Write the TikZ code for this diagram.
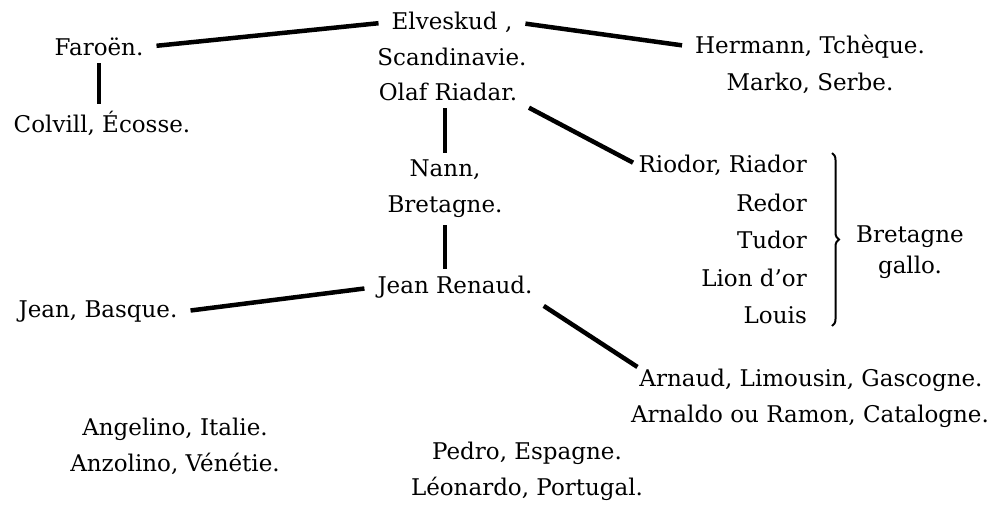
\documentclass[tikz,border=0pt]{standalone}
\usepackage{fontspec}
\setmainfont{DejaVu Serif}
\usetikzlibrary{decorations.pathreplacing}

\tikzset{
  nom/.style={font=\fontsize{23}{36}\selectfont, inner sep=1pt, align=center},
  trait/.style={line width=4.5pt, shorten <=12pt, shorten >=12pt},
  barre/.style={line width=4.5pt, shorten <=6pt, shorten >=6pt},
}

\begin{document}
\begin{tikzpicture}[line cap=butt,x=1pt,y=-1pt]
  \useasboundingbox (0,0) rectangle (991,509);
  % main stem
  \node[nom] (elveskud) at (452,22) {Elveskud ,};
  \node[nom] (scandinavie) at (452,57) {Scandinavie.};
  \node[nom] (olaf) at (448,92) {Olaf Riadar.};
  \node[nom] (faroen) at (99,47) {Faroën.};
  \node[nom] (colvill) at (102,123) {Colvill, Écosse.};
  \node[nom] (hermann) at (810,47) {Hermann, Tchèque.};
  \node[nom] (marko) at (810,83) {Marko, Serbe.};
  \node[nom] (nann) at (445,170) {Nann,};
  \node[nom] (bretagne) at (445,207) {Bretagne.};
  \node[nom] (jeanrenaud) at (455,287) {Jean Renaud.};
  \node[nom] (jeanbasque) at (98,312) {Jean, Basque.};
  % Bretagne gallo
  \node[nom,anchor=east] (riodor) at (808,165) {Riodor, Riador};
  \node[nom,anchor=east] (redor) at (808,203) {Redor};
  \node[nom,anchor=east] (tudor) at (808,240) {Tudor};
  \node[nom,anchor=east] (lion) at (808,278) {Lion d’or};
  \node[nom,anchor=east] (louis) at (808,315) {Louis};
  \draw[line width=2pt, decorate, decoration={brace, amplitude=7pt}]
    (832,153) -- (832,326);
  \node[nom,font=\fontsize{23}{31}\selectfont] (gallo) at (910,252) {Bretagne\\gallo.};
  % south
  \node[nom] (arnaud) at (811,380) {Arnaud, Limousin, Gascogne.};
  \node[nom] (arnaldo) at (810,416) {Arnaldo ou Ramon, Catalogne.};
  \node[nom] (angelino) at (175,446) {Angelino, Italie.\\Anzolino, Vénétie.};
  \node[nom] (pedro) at (527,471) {Pedro, Espagne.\\Léonardo, Portugal.};
  % connectors
  \draw[trait] (faroen.east) -- (elveskud.west);
  \draw[trait] (elveskud.east) -- (hermann.west);
  \draw[barre] (faroen.south) -- (faroen.south |- colvill.north);
  \draw[barre] (olaf.south -| nann.north) -- (nann.north);
  \draw[trait,shorten >=5pt] (olaf.south east) -- (riodor.west);
  \draw[barre] (bretagne.south) -- (bretagne.south |- jeanrenaud.north);
  \draw[trait] (jeanrenaud.west) -- (jeanbasque.east);
  \draw[trait,shorten >=1pt] (jeanrenaud.south east) -- (arnaud.north west);
\end{tikzpicture}
\end{document}
